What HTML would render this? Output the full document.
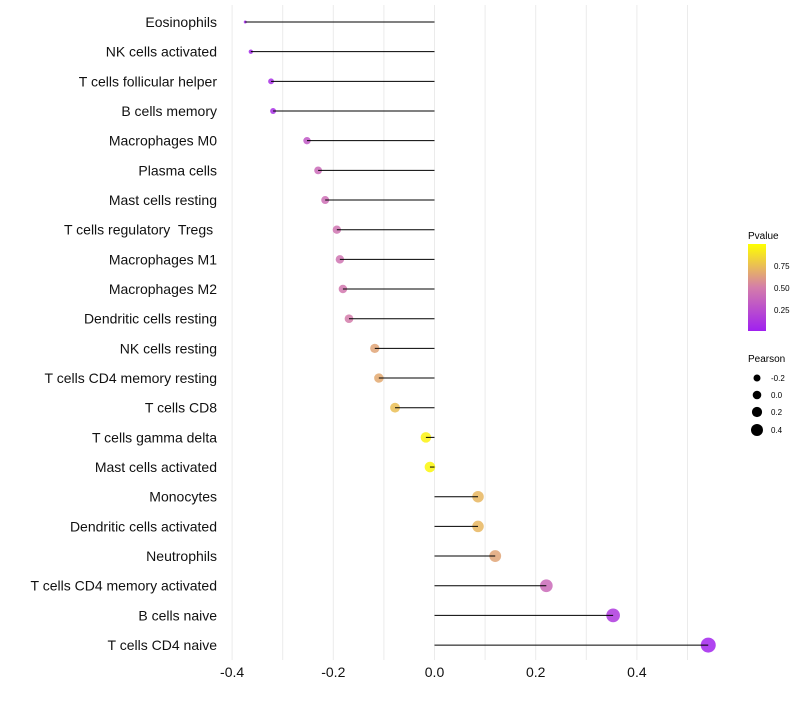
<!DOCTYPE html>
<html><head><meta charset="utf-8"><style>
body{margin:0;background:#fff;font-family:"Liberation Sans",sans-serif}
text{white-space:pre}
</style></head><body>
<svg id="c" width="800" height="700" xmlns="http://www.w3.org/2000/svg">
<defs><linearGradient id="pg" x1="0" y1="1" x2="0" y2="0">
<stop offset="0" stop-color="#a020f0"/><stop offset="0.5" stop-color="#d47daa"/><stop offset="1" stop-color="#ffff00"/></linearGradient></defs>
<g id="grid"></g><g id="marks"></g><g id="ylab"></g><g id="xlab"></g>
<g>
<text x="748" y="239" font-size="10">Pvalue</text>
<rect x="748" y="244" width="18" height="87" fill="url(#pg)"/>
<text x="774" y="269" font-size="8">0.75</text>
<text x="774" y="291" font-size="8">0.50</text>
<text x="774" y="313" font-size="8">0.25</text>
</g>
<g>
<text x="748" y="362" font-size="10">Pearson</text>
<circle cx="757" cy="378" r="3.5"/><text x="771" y="381" font-size="8">-0.2</text>
<circle cx="757" cy="395" r="4.3"/><text x="771" y="398" font-size="8">0.0</text>
<circle cx="757" cy="412" r="5.1"/><text x="771" y="415" font-size="8">0.2</text>
<circle cx="757" cy="430" r="6"/><text x="771" y="433" font-size="8">0.4</text>
</g>
</svg>
<script>
const categories=["Eosinophils","NK cells activated","T cells follicular helper","B cells memory","Macrophages M0","Plasma cells","Mast cells resting","T cells regulatory  Tregs ","Macrophages M1","Macrophages M2","Dendritic cells resting","NK cells resting","T cells CD4 memory resting","T cells CD8","T cells gamma delta","Mast cells activated","Monocytes","Dendritic cells activated","Neutrophils","T cells CD4 memory activated","B cells naive","T cells CD4 naive"];
const pearson=[-0.374,-0.363,-0.323,-0.319,-0.252,-0.230,-0.216,-0.193,-0.187,-0.181,-0.169,-0.118,-0.110,-0.078,-0.017,-0.009,0.086,0.086,0.120,0.221,0.353,0.541];
const pvalues=[0.03,0.05,0.08,0.08,0.3,0.4,0.42,0.45,0.45,0.47,0.5,0.65,0.67,0.75,0.95,0.97,0.72,0.72,0.65,0.4,0.13,0.02];
const xticks=[-0.4,-0.2,0.0,0.2,0.4];
const NS="http://www.w3.org/2000/svg";
const X=v=>434.5+v*506, Y=i=>22+i*29.67;
function mk(t,a,p){const e=document.createElementNS(NS,t);for(const k in a)e.setAttribute(k,a[k]);p.appendChild(e);return e;}
function col(p){const s=[[160,32,240],[212,125,170],[255,255,0]];let a,b,t;if(p<0.5){a=s[0];b=s[1];t=p/0.5}else{a=s[1];b=s[2];t=(p-0.5)/0.5}
return `rgb(${a.map((c,i)=>Math.round(c+(b[i]-c)*t)).join(",")})`;}
const grid=document.getElementById('grid'),marks=document.getElementById('marks'),yl=document.getElementById('ylab'),xl=document.getElementById('xlab');
for(let g=-0.4;g<=0.51;g+=0.1){const l=mk('line',{x1:X(g),x2:X(g),y1:5,y2:660,stroke:'#ebebeb','stroke-width':1},grid);

}
xticks.forEach(t=>{const e=mk('text',{x:X(t),y:677,'font-size':14,'text-anchor':'middle',fill:'#111'},xl);e.textContent=t.toFixed(1);

});
const vmin=Math.min(...pearson), vmax=Math.max(...pearson);
categories.forEach((c,i)=>{
const y=Y(i),v=pearson[i];
const t=mk('text',{x:217,y:y+5,'font-size':14,'text-anchor':'end',fill:'#111'},yl);t.textContent=c;


const r=1.5+6*Math.sqrt((v-vmin)/(vmax-vmin));
const ci=mk('circle',{cx:X(v),cy:y,r:r,fill:col(pvalues[i]),'fill-opacity':0.85},marks);


const ln=mk('line',{x1:X(0),x2:X(v),y1:y,y2:y,stroke:'#000','stroke-width':1},marks);


});
</script>
</body></html>
